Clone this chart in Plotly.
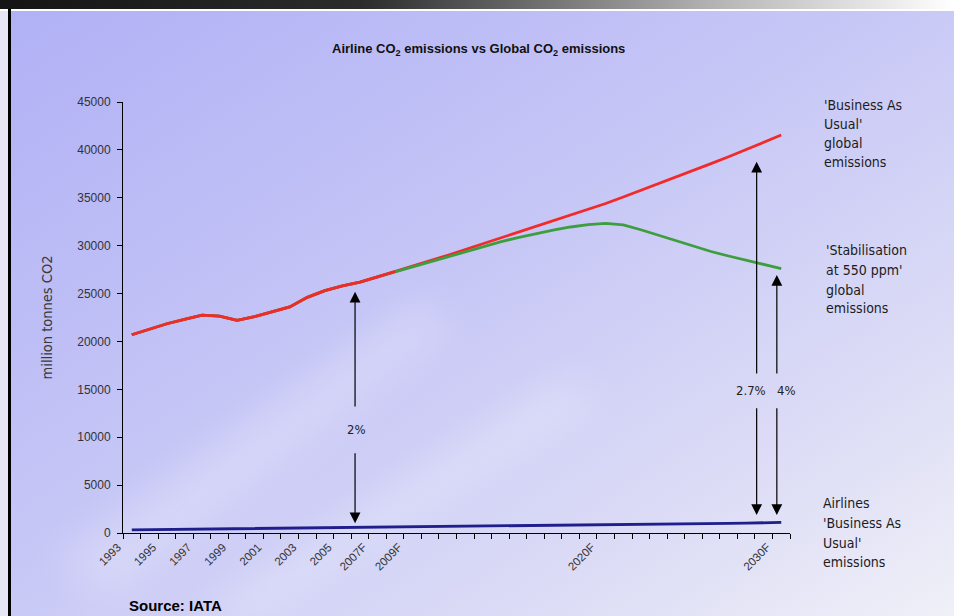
import base64
import plotly.graph_objects as go

# ---- data (million tonnes CO2) ----
years = list(range(1993, 2031))

bau_global = [20700, 21300, 21850, 22300, 22750, 22650, 22200, 22600, 23100, 23600,
              24600, 25300, 25800, 26200, 26750, 27300, 27870, 28430, 29000, 29600,
              30200, 30780, 31370, 31960, 32560, 33160, 33780, 34400, 35080, 35760,
              36450, 37150, 37850, 38560, 39280, 40020, 40770, 41550]

stabilisation_550 = [20700, 21300, 21850, 22300, 22750, 22650, 22200, 22600, 23100, 23600,
                     24600, 25300, 25800, 26200, 26750, 27250, 27780, 28300, 28820, 29350,
                     29880, 30400, 30850, 31250, 31620, 31950, 32200, 32330, 32170, 31660,
                     31100, 30520, 29930, 29390, 28920, 28500, 28080, 27600]

airlines_bau = [330, 350, 370, 390, 410, 420, 440, 460, 450, 450,
                460, 490, 510, 530, 560, 600, 620, 640, 660, 680,
                700, 720, 740, 760, 780, 800, 820, 840, 860, 880,
                900, 920, 950, 980, 1010, 1040, 1070, 1100]

tick_years = [1993, 1995, 1997, 1999, 2001, 2003, 2005, 2007, 2009, 2020, 2030]
tick_text = ["1993", "1995", "1997", "1999", "2001", "2003", "2005",
             "2007F", "2009F", "2020F", "2030F"]

# share-of-emissions markers: (year, tip of upper arrow, label)
share_2006 = (2005.72, 25190, "2%")
share_bau_2030 = (2028.6, 38770, "2.7%")
share_stab_2030 = (2029.75, 26940, "4%")

W, H = 954, 616
L, R, T, B = 123, 164, 102, 83
PW, PH = W - L - R, H - T - B

# ---- slide-style background ----
svg = f"""<svg xmlns='http://www.w3.org/2000/svg' width='{W}' height='{H}' viewBox='0 0 {W} {H}'>
<defs>
<linearGradient id='g' x1='0' y1='0' x2='1' y2='1'>
<stop offset='0' stop-color='#b0b0f6'/>
<stop offset='0.45' stop-color='#c6c6f6'/>
<stop offset='0.8' stop-color='#dedef6'/>
<stop offset='1' stop-color='#f0f0f8'/>
</linearGradient>
<linearGradient id='bar' x1='0' y1='0' x2='1' y2='0'>
<stop offset='0' stop-color='#141414'/>
<stop offset='0.38' stop-color='#2c2c2c'/>
<stop offset='0.75' stop-color='#b4b4b4'/>
<stop offset='1' stop-color='#ffffff'/>
</linearGradient>
<filter id='f'><feGaussianBlur stdDeviation='18'/></filter>
</defs>
<rect width='{W}' height='{H}' fill='url(#g)'/>
<g filter='url(#f)' fill='#ffffff' opacity='0.22'>
<polygon points='60,560 420,300 450,330 110,600'/>
<polygon points='200,616 560,380 600,400 260,616'/>
</g>
<rect x='0' y='0' width='{W}' height='9' fill='url(#bar)'/>
<rect x='0' y='9' width='{W}' height='2' fill='#ffffff'/>
<rect x='0' y='11' width='8' height='{H - 11}' fill='#e6e6f4'/>
<rect x='8' y='9' width='3' height='{H - 9}' fill='#000000'/>
</svg>"""
bg_uri = "data:image/svg+xml;base64," + base64.b64encode(svg.encode()).decode()

fig = go.Figure()

fig.add_trace(go.Scatter(x=years, y=bau_global, mode="lines",
                         line=dict(color="#f22a2a", width=2.8), hoverinfo="skip"))
fig.add_trace(go.Scatter(x=years, y=stabilisation_550, mode="lines",
                         line=dict(color="#3e9e3e", width=2.8), hoverinfo="skip"))
# red drawn over green where the two coincide
fig.add_trace(go.Scatter(x=years[:16], y=bau_global[:16], mode="lines",
                         line=dict(color="#f22a2a", width=2.8), hoverinfo="skip"))
fig.add_trace(go.Scatter(x=years, y=airlines_bau, mode="lines",
                         line=dict(color="#1e1e8c", width=2.8), hoverinfo="skip"))

annotations = []
side_font = "DejaVu Sans Condensed, DejaVu Sans"

def double_arrow(x, top, mid_top, mid_bot, bottom, label, label_x):
    for tip, tail in ((top, mid_top), (bottom, mid_bot)):
        annotations.append(dict(x=x, y=tip, ax=x, ay=tail, xref="x", yref="y",
                                axref="x", ayref="y", showarrow=True, arrowhead=2,
                                arrowsize=1.8, arrowwidth=1.2, arrowcolor="#000000",
                                standoff=0, startstandoff=0, text=""))
    annotations.append(dict(x=label_x, y=(mid_top + mid_bot) / 2, xref="x", yref="y",
                            text=label, showarrow=False,
                            font=dict(family=side_font, size=13, color="#222222")))

double_arrow(share_2006[0], share_2006[1], 13050, 8490, 1010, share_2006[2], 2005.8)
double_arrow(share_bau_2030[0], share_bau_2030[1], 16500, 13190, 1880,
             share_bau_2030[2], 2028.3)
double_arrow(share_stab_2030[0], share_stab_2030[1], 16500, 13190, 1880,
             share_stab_2030[2], 2030.28)

label_font = dict(family=side_font, size=14, color="#1c1c1c")

def side_label(lines, y_pixels, x_pixel):
    for line, yp in zip(lines, y_pixels):
        annotations.append(dict(x=(x_pixel - L) / PW, y=(H - B - yp) / PH, xref="paper",
                                yref="paper", xanchor="left", yanchor="middle",
                                text=line, showarrow=False, font=label_font))

side_label(["'Business As", "Usual'", "global", "emissions"], [105, 124, 143, 162], 822)
side_label(["'Stabilisation", "at 550 ppm'", "global", "emissions"], [250, 270, 290, 308], 824)
side_label(["Airlines", "'Business As", "Usual'", "emissions"], [503, 523, 543, 562], 821)

annotations.append(dict(x=(478 - L) / PW, y=(H - B - 50) / PH, xref="paper", yref="paper",
                        text="<b>Airline CO<sub>2</sub> emissions vs Global CO<sub>2</sub> emissions</b>",
                        showarrow=False, xanchor="center", yanchor="middle",
                        font=dict(family="Liberation Sans, Arial", size=13, color="#111111")))

annotations.append(dict(x=(127 - L) / PW, y=(H - B - 605) / PH, xref="paper", yref="paper",
                        text="<b>Source: IATA</b>", showarrow=False, xanchor="left",
                        yanchor="middle",
                        font=dict(family="Liberation Sans, Arial", size=15, color="#000000")))

fig.update_layout(
    width=W, height=H,
    margin=dict(l=L, r=R, t=T, b=B),
    paper_bgcolor="#c8c8f6",
    plot_bgcolor="rgba(0,0,0,0)",
    showlegend=False,
    annotations=annotations,
    images=[dict(source=bg_uri, xref="paper", yref="paper",
                 x=-L / PW, y=1 + T / PH, sizex=W / PW, sizey=H / PH,
                 sizing="stretch", xanchor="left", yanchor="top", layer="below")],
)

fig.update_xaxes(
    range=[1992.5, 2030.5], showgrid=False, zeroline=False,
    showline=True, linecolor="#000000", linewidth=1,
    tickmode="array", tickvals=tick_years, ticktext=tick_text,
    ticks="", tickangle=-45, ticklabelshift=-14, ticklabelstandoff=2,
    tickfont=dict(family="Liberation Sans, Arial", size=11.5, color="#333333"),
    minor=dict(tickmode="linear", tick0=1992.5, dtick=1, ticks="outside",
               ticklen=5, tickcolor="#000000", tickwidth=1, showgrid=False),
)

fig.update_yaxes(
    range=[0, 45000], dtick=5000, tick0=0, tickformat="d",
    showgrid=False, zeroline=False,
    showline=True, linecolor="#000000", linewidth=1,
    ticks="outside", ticklen=5, tickcolor="#000000", ticklabelstandoff=4,
    tickfont=dict(family="Liberation Sans, Arial", size=12, color="#333333"),
    title=dict(text="million tonnes CO2", standoff=21,
               font=dict(family=side_font, size=14.5, color="#3a3a3a")),
)

fig.write_html("out.html")
